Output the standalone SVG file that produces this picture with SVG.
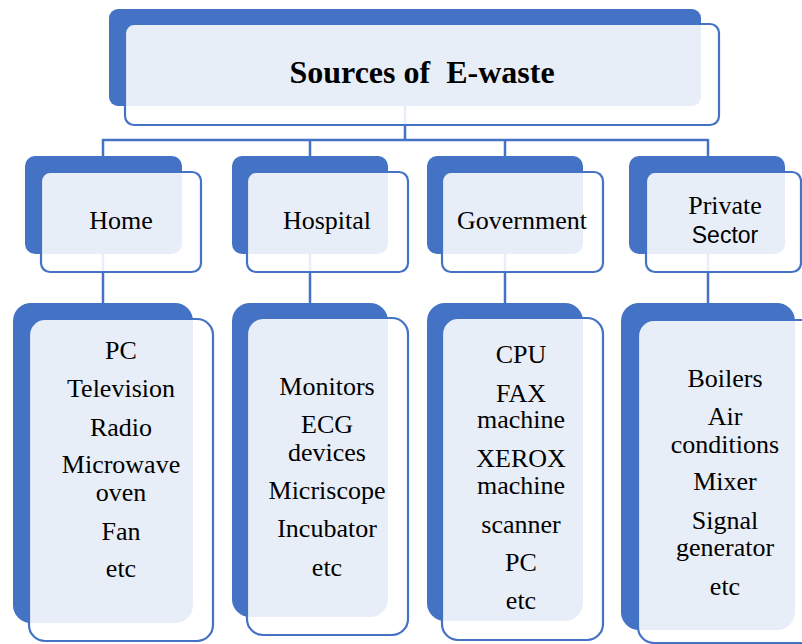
<svg xmlns="http://www.w3.org/2000/svg" width="802" height="644" viewBox="0 0 802 644">
<style>
.back{fill:#4472C4}
.front{fill:#FFFFFF;fill-opacity:0.88;stroke:#4472C4;stroke-width:2.2}
.conn{stroke:#4472C4;stroke-width:2.5;fill:none}
.t{font-family:'Liberation Serif','Tinos','Times New Roman','Noto Serif','DejaVu Serif',serif;font-size:26px;fill:#000;text-anchor:middle}
.title{font-weight:bold;font-size:32px;white-space:pre}
.sans{font-family:'Liberation Sans',Arial,sans-serif;font-size:23px}
</style>
<rect width="802" height="644" fill="#FFFFFF"/>
<g id="connectors">
<path class="conn" d="M405,106 V140 M103,140 H708 M103,139 V157 M310,139 V157 M505,139 V157 M708,139 V157"/>
<path class="conn" d="M103,254 V304 M310,254 V304 M505,254 V304 M708,254 V304"/>
</g>
<g id="root">
<rect class="back" x="109" y="9" width="592" height="97" rx="9"/>
<rect class="front" x="125" y="24" width="594" height="101" rx="9"/>
<text class="t title" x="422" y="83" xml:space="preserve">Sources of  E-waste</text>
</g>
<g id="home">
<rect class="back" x="25" y="156" width="157" height="98" rx="10"/>
<rect class="front" x="41" y="172" width="160" height="100" rx="9"/>
<text class="t" x="121" y="229">Home</text>
</g>
<g id="hospital">
<rect class="back" x="232" y="156" width="156" height="98" rx="10"/>
<rect class="front" x="247" y="172" width="161" height="100" rx="9"/>
<text class="t" x="327" y="229">Hospital</text>
</g>
<g id="government">
<rect class="back" x="427" y="156" width="156" height="98" rx="10"/>
<rect class="front" x="442" y="172" width="161" height="100" rx="9"/>
<text class="t" x="522" y="229">Government</text>
</g>
<g id="private">
<rect class="back" x="629" y="156" width="156" height="98" rx="10"/>
<rect class="front" x="646" y="172" width="155" height="100" rx="9"/>
<text class="t" x="725" y="214">Private</text>
<text class="t sans" x="725" y="243">Sector</text>
</g>
<g id="home-items">
<rect class="back" x="13" y="303" width="180" height="320" rx="18"/>
<rect class="front" x="29" y="319" width="184" height="322" rx="16"/>
<text class="t" x="121" y="359">PC</text>
<text class="t" x="121" y="397">Television</text>
<text class="t" x="121" y="436">Radio</text>
<text class="t" x="121" y="473">Microwave</text>
<text class="t" x="121" y="501">oven</text>
<text class="t" x="121" y="540">Fan</text>
<text class="t" x="121" y="577">etc</text>
</g>
<g id="hospital-items">
<rect class="back" x="232" y="303" width="156" height="314" rx="18"/>
<rect class="front" x="247" y="318" width="161" height="317" rx="16"/>
<text class="t" x="327" y="395">Monitors</text>
<text class="t" x="327" y="433">ECG</text>
<text class="t" x="327" y="461">devices</text>
<text class="t" x="327" y="499">Micriscope</text>
<text class="t" x="327" y="537">Incubator</text>
<text class="t" x="327" y="576">etc</text>
</g>
<g id="government-items">
<rect class="back" x="427" y="303" width="156" height="318" rx="18"/>
<rect class="front" x="442" y="318" width="161" height="322" rx="16"/>
<text class="t" x="521" y="363">CPU</text>
<text class="t" x="521" y="402">FAX</text>
<text class="t" x="521" y="428">machine</text>
<text class="t" x="521" y="467">XEROX</text>
<text class="t" x="521" y="494">machine</text>
<text class="t" x="521" y="533">scanner</text>
<text class="t" x="521" y="571">PC</text>
<text class="t" x="521" y="609">etc</text>
</g>
<g id="private-items">
<rect class="back" x="621" y="303" width="174" height="327" rx="18"/>
<rect class="front" x="638" y="320" width="184" height="323" rx="16"/>
<text class="t" x="725" y="387">Boilers</text>
<text class="t" x="725" y="425">Air</text>
<text class="t" x="725" y="453">conditions</text>
<text class="t" x="725" y="490">Mixer</text>
<text class="t" x="725" y="529">Signal</text>
<text class="t" x="725" y="556">generator</text>
<text class="t" x="725" y="595">etc</text>
</g>
</svg>
